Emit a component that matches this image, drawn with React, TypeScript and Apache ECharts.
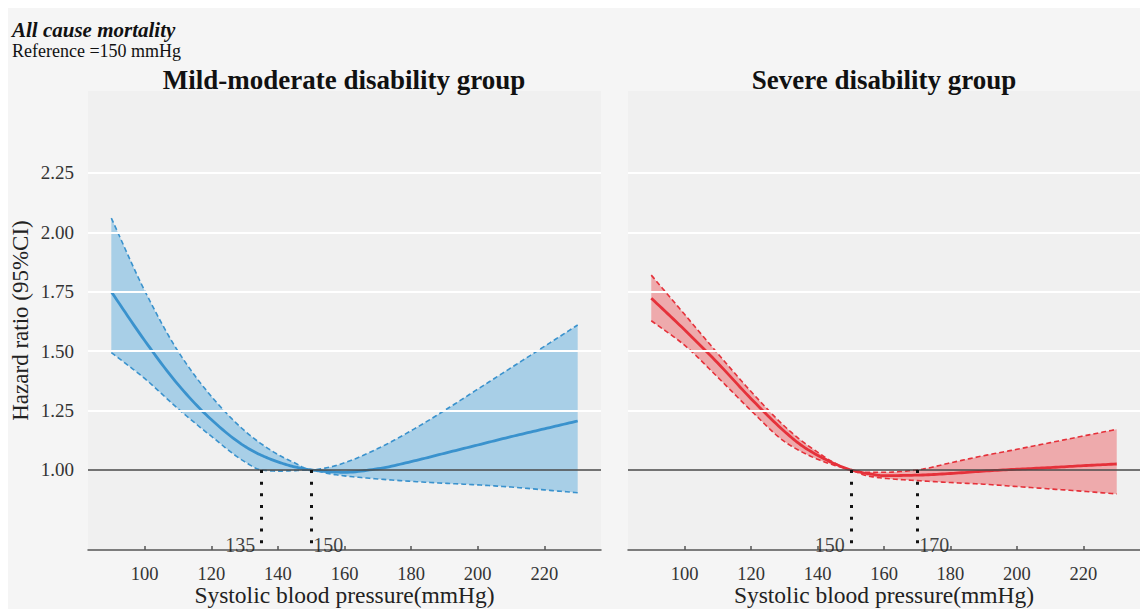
import React, { useEffect, useRef } from "react";
import * as echarts from "echarts";

const sbp = [90, 100, 110, 120, 130, 135, 140, 145, 150, 155, 160, 170, 180, 190, 200, 210, 220, 230];

const mildHR = [1.75, 1.545, 1.36, 1.212, 1.1, 1.062, 1.034, 1.013, 1.0, 0.993, 0.99, 1.005, 1.035, 1.07, 1.105, 1.14, 1.173, 1.206];
const mildUpper = [2.06, 1.755, 1.5, 1.31, 1.165, 1.11, 1.065, 1.03, 1.0, 1.01, 1.03, 1.09, 1.165, 1.25, 1.34, 1.43, 1.52, 1.61];
const mildLower = [1.494, 1.385, 1.258, 1.142, 1.035, 1.0, 0.995, 0.997, 1.0, 0.985, 0.975, 0.962, 0.952, 0.944, 0.937, 0.928, 0.916, 0.904];

const sevHR = [1.723, 1.59, 1.45, 1.3, 1.163, 1.105, 1.062, 1.027, 1.0, 0.985, 0.976, 0.978, 0.985, 0.995, 1.003, 1.01, 1.018, 1.025];
const sevUpper = [1.82, 1.655, 1.49, 1.33, 1.185, 1.125, 1.075, 1.03, 1.0, 0.99, 0.99, 1.0, 1.03, 1.06, 1.087, 1.115, 1.143, 1.171];
const sevLower = [1.628, 1.525, 1.39, 1.25, 1.12, 1.078, 1.045, 1.02, 1.0, 0.975, 0.965, 0.955, 0.947, 0.94, 0.93, 0.92, 0.91, 0.899];

const xTicks = [100, 120, 140, 160, 180, 200, 220];
const yTicks = [1.0, 1.25, 1.5, 1.75, 2.0, 2.25];
const gridValues = [1.25, 1.5, 1.75, 2.0, 2.25];
const refHR = 1.0;

const mildCuts = [135, 150];
const sevCuts = [150, 170];

const X_MIN = 83;
const X_MAX = 237;
const Y_MIN = 0.663;
const Y_MAX = 2.595;
const LABEL_Y = 0.683;

const FONT = "'Liberation Serif', 'Times New Roman', serif";

// monotone cubic drawing of pixel points (rendering only)
function smoothPixels(pts: number[][]): number[][] {
  const n = pts.length;
  if (n < 3) return pts;
  const dx: number[] = [];
  const m: number[] = [];
  for (let i = 0; i < n - 1; i++) {
    dx.push(pts[i + 1][0] - pts[i][0]);
    m.push((pts[i + 1][1] - pts[i][1]) / (pts[i + 1][0] - pts[i][0]));
  }
  const t: number[] = new Array(n);
  t[0] = m[0];
  t[n - 1] = m[n - 2];
  for (let i = 1; i < n - 1; i++) {
    if (m[i - 1] * m[i] <= 0) t[i] = 0;
    else {
      t[i] = (3 * (dx[i - 1] + dx[i])) / ((2 * dx[i] + dx[i - 1]) / m[i - 1] + (dx[i] + 2 * dx[i - 1]) / m[i]);
    }
  }
  const out: number[][] = [];
  const K = 12;
  for (let i = 0; i < n - 1; i++) {
    const x0 = pts[i][0];
    const y0 = pts[i][1];
    const y1 = pts[i + 1][1];
    const h = dx[i];
    for (let k = 0; k < K; k++) {
      const s = k / K;
      const h00 = 2 * s * s * s - 3 * s * s + 1;
      const h10 = s * s * s - 2 * s * s + s;
      const h01 = -2 * s * s * s + 3 * s * s;
      const h11 = s * s * s - s * s;
      out.push([x0 + s * h, h00 * y0 + h10 * h * t[i] + h01 * y1 + h11 * h * t[i + 1]]);
    }
  }
  out.push(pts[n - 1]);
  return out;
}

function bandRenderer(up: number[], lo: number[], lineColor: string, fillColor: string) {
  return (params: any, api: any) => {
    if (params.dataIndex !== 0) return null;
    const upPx = smoothPixels(sbp.map((x, i) => api.coord([x, up[i]])));
    const loPx = smoothPixels(sbp.map((x, i) => api.coord([x, lo[i]])));
    const poly = upPx.concat(loPx.slice().reverse());
    return {
      type: "group",
      children: [
        { type: "polygon", shape: { points: poly }, style: { fill: fillColor, stroke: null } },
        { type: "polyline", shape: { points: upPx }, style: { fill: null, stroke: lineColor, lineWidth: 1.6, lineDash: [5, 3] } },
        { type: "polyline", shape: { points: loPx }, style: { fill: null, stroke: lineColor, lineWidth: 1.6, lineDash: [5, 3] } },
      ],
    };
  };
}

function lineRenderer(hr: number[], lineColor: string) {
  return (params: any, api: any) => {
    if (params.dataIndex !== 0) return null;
    const px = smoothPixels(sbp.map((x, i) => api.coord([x, hr[i]])));
    return {
      type: "polyline",
      shape: { points: px },
      style: { fill: null, stroke: lineColor, lineWidth: 2.8, lineJoin: "round" },
    };
  };
}

function panelSeries(
  idx: number,
  hr: number[],
  up: number[],
  lo: number[],
  cuts: number[],
  lineColor: string,
  fillColor: string
) {
  const common = { xAxisIndex: idx, yAxisIndex: idx };
  return [
    {
      ...common,
      type: "line",
      z: 1,
      data: [[sbp[0], refHR]],
      symbol: "none",
      lineStyle: { width: 0 },
      silent: true,
      markLine: {
        silent: true,
        symbol: ["none", "none"],
        label: { show: false },
        lineStyle: { color: "#ffffff", width: 2, type: "solid" },
        data: gridValues.map((v) => ({ yAxis: v })),
      },
    },
    {
      ...common,
      type: "custom",
      z: 2,
      silent: true,
      data: [[sbp[0], lo[0]]],
      renderItem: bandRenderer(up, lo, lineColor, fillColor),
    },
    {
      ...common,
      type: "line",
      z: 3,
      data: [[sbp[0], refHR]],
      symbol: "none",
      lineStyle: { width: 0 },
      silent: true,
      markLine: {
        silent: true,
        symbol: ["none", "none"],
        label: { show: false },
        lineStyle: { color: "#4a4a4a", width: 1.5, type: "solid" },
        data: [
          { yAxis: refHR },
          ...cuts.map((c) => [
            { coord: [c, refHR], lineStyle: { color: "#111111", width: 3, type: [3, 8.7], cap: "butt" } },
            { coord: [c, Y_MIN] },
          ]),
        ],
      },
    },
    {
      ...common,
      type: "custom",
      z: 4,
      silent: true,
      data: [[sbp[0], hr[0]]],
      renderItem: lineRenderer(hr, lineColor),
    },
    {
      ...common,
      type: "scatter",
      z: 5,
      symbolSize: 0,
      silent: true,
      data: cuts.map((c, i) => ({
        value: [c, LABEL_Y],
        label: {
          show: true,
          formatter: String(c),
          position: i === 0 ? "left" : "right",
          distance: i === 0 ? 6 : 2,
          fontFamily: FONT,
          fontSize: 20,
          color: "#111",
        },
      })),
    },
  ];
}

function xAxisOpt(idx: number) {
  return {
    type: "value",
    gridIndex: idx,
    min: X_MIN,
    max: X_MAX,
    name: "Systolic blood pressure(mmHg)",
    nameLocation: "middle",
    nameGap: 33,
    nameMoveOverlap: false,
    nameTextStyle: { fontFamily: FONT, fontSize: 23.5, color: "#222" },
    axisLine: { show: true, lineStyle: { color: "#555", width: 1.5 } },
    axisTick: { show: true, inside: true, length: 4, customValues: xTicks, lineStyle: { color: "#555", width: 1.5 } },
    axisLabel: {
      show: true,
      customValues: xTicks,
      fontFamily: FONT,
      fontSize: 18.5,
      color: "#333",
      margin: 14,
    },
    splitLine: { show: false },
  };
}

function yAxisOpt(idx: number) {
  return {
    type: "value",
    gridIndex: idx,
    min: Y_MIN,
    max: Y_MAX,
    name: idx === 0 ? "Hazard ratio (95%CI)" : "",
    nameLocation: "middle",
    nameGap: 56,
    nameMoveOverlap: false,
    nameTextStyle: { fontFamily: FONT, fontSize: 23, color: "#222" },
    axisLine: { show: false },
    axisTick: { show: false },
    axisLabel: {
      show: idx === 0,
      customValues: yTicks,
      formatter: (v: number) => v.toFixed(2),
      fontFamily: FONT,
      fontSize: 19,
      color: "#333",
      margin: 14,
    },
    splitLine: { show: false },
  };
}

export default function App() {
  const ref = useRef<HTMLDivElement>(null);
  useEffect(() => {
    if (!ref.current) return;
    const chart = echarts.init(ref.current, undefined, { renderer: "svg" });
    const option: any = {
      animation: false,
      backgroundColor: "#f5f5f5",
      textStyle: { fontFamily: FONT },
      grid: [
        { left: 88, top: 91, width: 513, height: 459, show: true, backgroundColor: "#f0f0f0", borderWidth: 0, containLabel: false, outerBoundsMode: "none" },
        { left: 628, top: 91, width: 512, height: 459, show: true, backgroundColor: "#f0f0f0", borderWidth: 0, containLabel: false, outerBoundsMode: "none" },
      ],
      xAxis: [xAxisOpt(0), xAxisOpt(1)],
      yAxis: [yAxisOpt(0), yAxisOpt(1)],
      graphic: [
        { type: "rect", z: -10, shape: { x: 0, y: 0, width: 1140, height: 8 }, style: { fill: "#ffffff" }, silent: true },
        { type: "rect", z: -10, shape: { x: 0, y: 0, width: 8, height: 609 }, style: { fill: "#ffffff" }, silent: true },
        {
          type: "text",
          x: 12,
          y: 30,
          style: { text: "All cause mortality", font: `italic bold 21px ${FONT}`, fill: "#111", verticalAlign: "middle" },
        },
        {
          type: "text",
          x: 12,
          y: 51,
          style: { text: "Reference =150 mmHg", font: `18px ${FONT}`, fill: "#111", verticalAlign: "middle" },
        },
        {
          type: "text",
          x: 344,
          y: 80,
          style: { text: "Mild-moderate disability group", font: `bold 27px ${FONT}`, fill: "#111", align: "center", verticalAlign: "middle" },
        },
        {
          type: "text",
          x: 884,
          y: 80,
          style: { text: "Severe disability group", font: `bold 27px ${FONT}`, fill: "#111", align: "center", verticalAlign: "middle" },
        },
      ],
      series: [
        ...panelSeries(0, mildHR, mildUpper, mildLower, mildCuts, "#3a92cd", "#a8cfe7"),
        ...panelSeries(1, sevHR, sevUpper, sevLower, sevCuts, "#e5313a", "#eeaaac"),
      ],
    };
    chart.setOption(option);
    return () => chart.dispose();
  }, []);
  return <div ref={ref} style={{ position: "fixed", left: 0, top: 0, width: 1140, height: 609 }} />;
}
